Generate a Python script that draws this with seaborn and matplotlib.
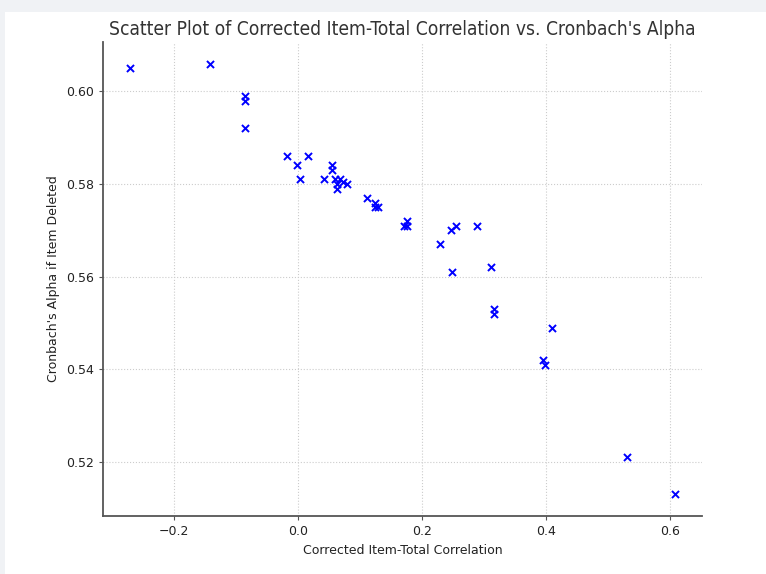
import matplotlib
matplotlib.use("Agg")
import matplotlib.pyplot as plt
import seaborn as sns
import pandas as pd
from matplotlib.patches import Rectangle

corrected_item_total = [
    -0.271, -0.142, -0.086, -0.086, -0.086,
    -0.018, -0.002, 0.016, 0.003, 0.042,
    0.054, 0.054, 0.059, 0.068, 0.062, 0.062, 0.072, 0.078,
    0.110, 0.123, 0.123, 0.128,
    0.171, 0.175, 0.175,
    0.229, 0.247, 0.254, 0.288, 0.248,
    0.311, 0.315, 0.315, 0.409, 0.394, 0.397,
    0.530, 0.607,
]
alpha_if_deleted = [
    0.605, 0.606, 0.599, 0.598, 0.592,
    0.586, 0.584, 0.586, 0.581, 0.581,
    0.584, 0.583, 0.581, 0.581, 0.580, 0.579, 0.5805, 0.580,
    0.577, 0.576, 0.575, 0.575,
    0.571, 0.572, 0.571,
    0.567, 0.570, 0.571, 0.571, 0.561,
    0.562, 0.553, 0.552, 0.549, 0.542, 0.541,
    0.521, 0.513,
]

df = pd.DataFrame({"Corrected Item-Total Correlation": corrected_item_total,
                   "Cronbach's Alpha if Item Deleted": alpha_if_deleted})

sns.set_style("white")
plt.rcParams['font.family'] = ['DejaVu Sans']

fig = plt.figure(figsize=(7.66, 5.74), dpi=100)
fig.patch.set_facecolor("#f0f2f5")
fig.patches.append(Rectangle((5/766, 0), 1 - 5/766, 1 - 12/574,
                             transform=fig.transFigure, facecolor="white",
                             edgecolor="none", zorder=-10))

ax = fig.add_axes([103/766, 1 - 516/574, (702 - 103)/766, (516 - 42)/574])
ax.set_facecolor("white")

sns.scatterplot(data=df, x="Corrected Item-Total Correlation",
                y="Cronbach's Alpha if Item Deleted", marker="x",
                color="blue", s=26, linewidth=1.4, ax=ax, zorder=3)

ax.grid(True, linestyle=":", color="#cccccc", linewidth=0.8)
ax.set_axisbelow(True)
for side in ["top", "right"]:
    ax.spines[side].set_visible(False)
for side in ["left", "bottom"]:
    ax.spines[side].set_color("#555555")
    ax.spines[side].set_linewidth(1.3)

ax.tick_params(axis="both", which="both", direction="out", length=3, width=0.8,
               colors="#555555", labelsize=9, labelcolor="#222222",
               bottom=True, left=True)
ax.set_title("Scatter Plot of Corrected Item-Total Correlation vs. Cronbach's Alpha",
             fontsize=13.8, color="#333333", fontstretch="condensed", pad=5)
ax.set_xlabel("Corrected Item-Total Correlation", fontsize=9, color="#222222")
ax.set_ylabel("Cronbach's Alpha if Item Deleted", fontsize=9, color="#222222")

fig.savefig("out.png", dpi=100)
